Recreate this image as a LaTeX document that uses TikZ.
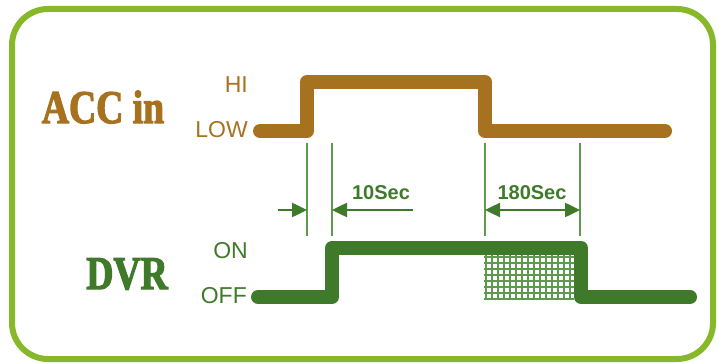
\documentclass[tikz,border=0pt]{standalone}
\usepackage{fontspec}
\setmainfont{Liberation Sans}
\newfontfamily\headfont[FakeStretch=0.8,BoldFeatures={FakeBold=2.5}]{Liberation Serif}
\usetikzlibrary{arrows.meta}
\definecolor{accbrown}{HTML}{A7721F}
\definecolor{dvrgreen}{HTML}{3F7A2A}
\definecolor{guidegreen}{HTML}{5E9A4E}
\definecolor{framegreen}{HTML}{86B82A}

\begin{document}
\begin{tikzpicture}[
    x=1pt, y=-1pt,
    >={Triangle[length=15pt,width=14pt]},
    signal/.style={line width=14pt, line cap=round, line join=round},
    title/.style={font=\headfont\bfseries\fontsize{47}{47}\selectfont, inner sep=0pt},
    level/.style={font=\fontsize{23}{23}\selectfont, inner sep=0pt, anchor=east},
    guide/.style={guidegreen, line width=2pt},
    dim/.style={dvrgreen, line width=2.5pt},
    dimlabel/.style={dvrgreen, font=\bfseries\fontsize{20}{20}\selectfont, inner sep=0pt},
    hatch/.style={guidegreen, line width=1.3pt}
]
\useasboundingbox (0,0) rectangle (719,363);
\draw[framegreen, line width=6pt, rounded corners=36pt] (12,9) rectangle (713,359);

% labels
\node[title, accbrown] (acc) at (103,107) {ACC in};
\node[title, dvrgreen] (dvr) at (127,274) {DVR};
\node[level, accbrown] (hi) at (248,85) {HI};
\node[level, accbrown] (low) at (248,130) {LOW};
\node[level, dvrgreen] (on) at (248,251) {ON};
\node[level, dvrgreen] (off) at (247,296) {OFF};

% ACC in
\draw[signal, accbrown] (260,131) -- (307,131) -- (307,82) -- (485,82) -- (485,131) -- (665,131);

% DVR
\foreach \hx in {486,492,...,572} \draw[hatch] (\hx,254) -- (\hx,299);
\foreach \hy in {257,263,...,299} \draw[hatch] (484,\hy) -- (574,\hy);
\draw[signal, dvrgreen] (258,297) -- (332,297) -- (332,248) -- (581,248) -- (581,297) -- (690,297);

% guides
\coordinate (g1t) at (307,143); \coordinate (g1b) at (307,236);
\coordinate (g2t) at (332,143); \coordinate (g2b) at (332,236);
\coordinate (g3t) at (485,143); \coordinate (g3b) at (485,236);
\coordinate (g4t) at (580,143); \coordinate (g4b) at (580,236);
\draw[guide] (g1t) -- (g1b);
\draw[guide] (g2t) -- (g2b);
\draw[guide] (g3t) -- (g3b);
\draw[guide] (g4t) -- (g4b);

% delays
\coordinate (d1l) at (278,210);
\coordinate (d1r) at (413,210);
\draw[dim,->] (d1l) -- (g1t |- d1l);
\draw[dim,<-] (g2t |- d1l) -- (d1r);
\draw[dim,<->] (g3t |- d1l) -- (g4t |- d1l);
\node[dimlabel] (t10) at (381,193) {10Sec};
\node[dimlabel] (t180) at (532,193) {180Sec};
\end{tikzpicture}
\end{document}
